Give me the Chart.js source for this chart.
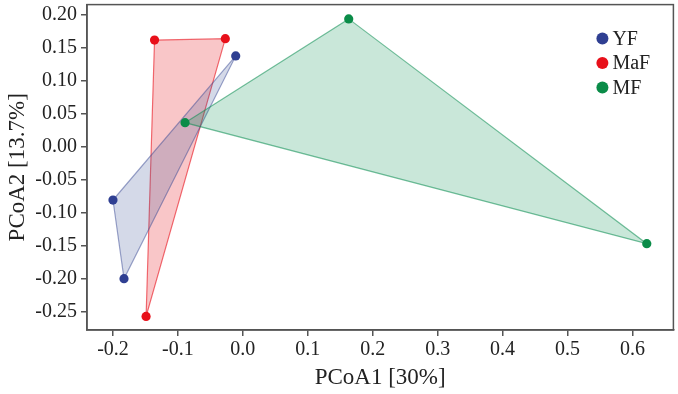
<!DOCTYPE html>
<html>
<head>
<meta charset="utf-8">
<script src="https://cdn.jsdelivr.net/npm/chart.js@4/dist/chart.umd.min.js"></script>
<style>
html,body{margin:0;padding:0;background:#fff;}
#wrap{width:678px;height:394px;position:relative;}
</style>
</head>
<body>
<div id="wrap"><canvas id="c" width="678" height="394"></canvas></div>
<script>
// ---- data ----
const groups = ["YF", "MaF", "MF"];
const yfX = [-0.011, -0.200, -0.183];
const yfY = [0.137, -0.081, -0.200];
const mafX = [-0.136, -0.027, -0.149];
const mafY = [0.161, 0.163, -0.257];
const mfX = [-0.089, 0.163, 0.622];
const mfY = [0.036, 0.193, -0.147];
const xTicks = [-0.2, -0.1, 0.0, 0.1, 0.2, 0.3, 0.4, 0.5, 0.6];
const yTicks = [0.20, 0.15, 0.10, 0.05, 0.00, -0.05, -0.10, -0.15, -0.20, -0.25];
const xTitle = "PCoA1 [30%]";
const yTitle = "PCoA2 [13.7%]";

const pointColors = ["#2f3f92", "#e8101a", "#0a8c48"];
const fillColors = ["rgba(60,80,150,0.22)", "rgba(232,16,26,0.24)", "rgba(10,146,80,0.22)"];
const strokeColors = ["rgba(60,75,150,0.5)", "rgba(232,16,26,0.6)", "rgba(10,140,80,0.55)"];

const xs = [yfX, mafX, mfX];
const ys = [yfY, mafY, mfY];

const datasets = groups.map((g, i) => ({
  label: g,
  data: xs[i].map((x, k) => ({x: x, y: ys[i][k]})),
  backgroundColor: pointColors[i],
  borderColor: pointColors[i],
  pointRadius: 4.6,
  pointHoverRadius: 4.6,
  borderWidth: 0,
  showLine: false
}));

const FONT = "'Liberation Serif', 'Times New Roman', serif";

const polygonPlugin = {
  id: 'polys',
  beforeDatasetsDraw(chart) {
    const ctx = chart.ctx;
    const a = chart.chartArea;
    ctx.save();
    ctx.beginPath();
    ctx.rect(a.left, a.top, a.right - a.left, a.bottom - a.top);
    ctx.clip();
    [1, 0, 2].forEach(i => {
      const pts = chart.getDatasetMeta(i).data;
      ctx.beginPath();
      pts.forEach((p, k) => { if (k === 0) ctx.moveTo(p.x, p.y); else ctx.lineTo(p.x, p.y); });
      ctx.closePath();
      ctx.fillStyle = fillColors[i];
      ctx.fill();
      ctx.lineWidth = 1.2;
      ctx.strokeStyle = strokeColors[i];
      ctx.stroke();
    });
    ctx.restore();
  }
};

const framePlugin = {
  id: 'frame',
  afterDraw(chart) {
    const ctx = chart.ctx;
    const a = chart.chartArea;
    ctx.save();
    ctx.strokeStyle = '#555';
    ctx.lineWidth = 1.5;
    ctx.strokeRect(a.left, a.top, a.right - a.left, a.bottom - a.top);
    // legend
    ctx.font = "20px " + FONT;
    ctx.textBaseline = 'middle';
    ctx.textAlign = 'left';
    chart.data.datasets.forEach((ds, i) => {
      const cy = a.top + 34 + i * 24.5;
      const cx = a.right - 71;
      ctx.beginPath();
      ctx.arc(cx, cy, 6, 0, Math.PI * 2);
      ctx.fillStyle = ds.backgroundColor;
      ctx.fill();
      ctx.fillStyle = '#222';
      ctx.fillText(ds.label, cx + 10, cy + 1);
    });
    ctx.restore();
  }
};

new Chart(document.getElementById('c'), {
  type: 'scatter',
  data: { datasets },
  plugins: [polygonPlugin, framePlugin],
  options: {
    responsive: false,
    animation: false,
    events: [],
    layout: { padding: { top: 3, right: 3, left: 0, bottom: 0 } },
    plugins: { legend: { display: false }, tooltip: { enabled: false } },
    scales: {
      x: {
        type: 'linear',
        min: -0.24, max: 0.663,
        afterFit(s) { s.height = 64; s.paddingLeft = 0; s.paddingRight = 0; },
        afterBuildTicks(s) { s.ticks = xTicks.map(v => ({value: v})); },
        ticks: { color: '#222', font: { family: FONT, size: 20 }, padding: 2,
          callback: v => Number(v).toFixed(1) },
        grid: { display: true, drawOnChartArea: false, drawTicks: true, tickLength: 6, color: '#555', lineWidth: 1.5 },
        border: { display: true, color: '#555', width: 1.5 },
        title: { display: true, text: xTitle, color: '#222', font: { family: FONT, size: 23 }, padding: { top: 0, bottom: 2 } }
      },
      y: {
        type: 'linear',
        min: -0.2776, max: 0.2146,
        afterFit(s) { s.width = 87; s.paddingTop = 0; s.paddingBottom = 0; },
        afterBuildTicks(s) { s.ticks = yTicks.map(v => ({value: v})); },
        ticks: { color: '#222', font: { family: FONT, size: 20 }, padding: 4,
          callback: v => Number(v).toFixed(2) },
        grid: { display: true, drawOnChartArea: false, drawTicks: true, tickLength: 6, color: '#555', lineWidth: 1.5 },
        border: { display: true, color: '#555', width: 1.5 },
        title: { display: true, text: yTitle, color: '#222', font: { family: FONT, size: 23 }, padding: { top: 4, bottom: 0 } }
      }
    }
  }
});
</script>
</body>
</html>
